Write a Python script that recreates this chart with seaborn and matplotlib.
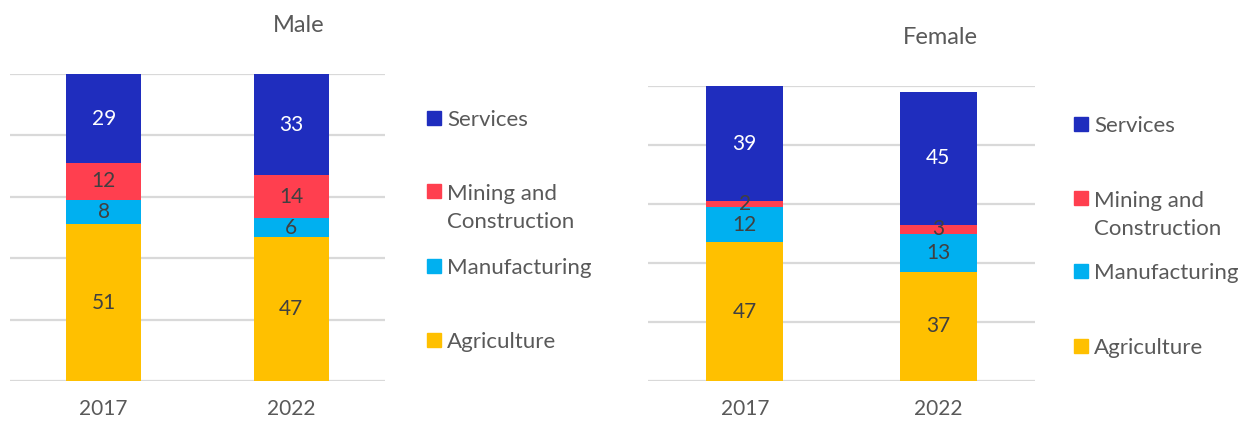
import numpy as np
import pandas as pd
import matplotlib
matplotlib.use("Agg")
import matplotlib.pyplot as plt
import seaborn as sns

years = ["2017", "2022"]
sectors = ["Agriculture", "Manufacturing", "Mining and Construction", "Services"]
legend_labels = ["Services", "Mining and\nConstruction", "Manufacturing", "Agriculture"]

male_agriculture = [51, 47]
male_manufacturing = [8, 6]
male_mining = [12, 14]
male_services = [29, 33]

female_agriculture = [47, 37]
female_manufacturing = [12, 13]
female_mining = [2, 3]
female_services = [39, 45]

colors = {"Agriculture": "#FFC000", "Manufacturing": "#00B0F0",
          "Mining and Construction": "#FF3F4F", "Services": "#1F2DBE"}
label_colors = {"Agriculture": "#404040", "Manufacturing": "#404040",
                "Mining and Construction": "#404040", "Services": "#FFFFFF"}

sns.set_style("white")
plt.rcParams["font.family"] = ["Lato", "DejaVu Sans"]
TXT = "#595959"

W, H = 1242, 424
fig = plt.figure(figsize=(W / 100, H / 100), dpi=100)


def px_rect(x0, x1, ytop, ybot):
    return [x0 / W, 1 - ybot / H, (x1 - x0) / W, (ybot - ytop) / H]


def draw_panel(rect, values, title, title_xy, leg_x, leg_ys):
    ax = fig.add_axes(rect)
    df = pd.DataFrame({"year": np.repeat(years, len(sectors)),
                       "sector": sectors * len(years),
                       "value": np.array(values).T.flatten()})
    df["cum"] = df.groupby("year")["value"].cumsum()
    df["mid"] = df["cum"] - df["value"] / 2
    # draw from top-most segment down so lower ones overlay
    for s in sectors[::-1]:
        sub = df[df["sector"] == s]
        sns.barplot(data=sub, x="year", y="cum", order=years, color=colors[s],
                    saturation=1, width=0.4, ax=ax, zorder=3, linewidth=0)
    for _, r in df.iterrows():
        ax.text(years.index(r["year"]), r["mid"], f"{int(r['value'])}",
                ha="center", va="center", fontsize=15,
                color=label_colors[r["sector"]], zorder=5)
    ax.set_xlim(-0.5, 1.5)
    ax.set_ylim(0, 100)
    ax.set_yticks(np.arange(0, 101, 20))
    ax.set_yticklabels([])
    ax.yaxis.grid(True, color="#D9D9D9", linewidth=1.6, zorder=0)
    ax.set_axisbelow(True)
    for sp in ax.spines.values():
        sp.set_visible(False)
    ax.tick_params(axis="both", length=0)
    ax.tick_params(axis="x", pad=13, labelsize=15, labelcolor=TXT)
    ax.set_xlabel("")
    ax.set_ylabel("")
    fig.text(title_xy[0] / W, 1 - title_xy[1] / H, title, ha="center",
             va="center", fontsize=17, color=TXT)
    # legend
    order = ["Services", "Mining and Construction", "Manufacturing", "Agriculture"]
    for s, lab, yy in zip(order, legend_labels, leg_ys):
        fig.patches.append(matplotlib.patches.Rectangle(
            ((leg_x - 7) / W, 1 - (yy + 7) / H), 14 / W, 14 / H,
            transform=fig.transFigure, color=colors[s], figure=fig))
        nlines = lab.count("\n")
        fig.text((leg_x + 13) / W, 1 - (yy + 8 + 29 * nlines) / H, lab,
                 ha="left", va="baseline", fontsize=16, color=TXT,
                 linespacing=1.5)
    return ax


male_vals = [male_agriculture, male_manufacturing, male_mining, male_services]
female_vals = [female_agriculture, female_manufacturing, female_mining, female_services]

draw_panel(px_rect(10, 385, 74, 381), male_vals, "Male", (299, 25), 434,
           [118, 191, 266, 340])
draw_panel(px_rect(648, 1035, 86, 381), female_vals, "Female", (940, 37), 1081,
           [124, 198, 271, 346])

fig.savefig("out.png", dpi=100, facecolor="white")
